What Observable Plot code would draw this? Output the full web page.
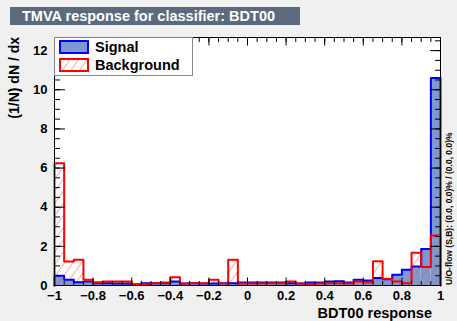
<!DOCTYPE html>
<html><head><meta charset="utf-8">
<script src="https://cdn.jsdelivr.net/npm/d3@7"></script>
<script src="https://cdn.jsdelivr.net/npm/@observablehq/plot@0.6"></script>
<style>
body{margin:0;background:#f0f0f0;}
#wrap{position:relative;width:457px;height:321px;background:#f0f0f0;font-family:"Liberation Sans",Arial,sans-serif;font-weight:bold;}
#title{position:absolute;left:10px;top:7px;width:290px;height:18px;background:#5b6a7c;color:#fff;font-size:14.5px;line-height:18px;padding-left:12px;box-sizing:border-box;white-space:nowrap;}
</style></head>
<body><div id="wrap"><div id="title">TMVA response for classifier: BDT00</div></div>
<script>
const binEdges = d3.range(40).map(i => -1 + i * 0.05);
const signal = [0.5, 0.3, 0.17, 0.2, 0.12, 0.12, 0.1, 0.1, 0.05, 0.12, 0.12, 0.12, 0.2, 0.1, 0.12, 0.1, 0.1, 0.12, 0.12, 0.15, 0.15, 0.15, 0.15, 0.15, 0.12, 0.1, 0.15, 0.15, 0.2, 0.22, 0.15, 0.3, 0.25, 0.38, 0.32, 0.55, 0.8, 0.97, 1.87, 10.6];
const background = [6.25, 1.22, 1.31, 0.29, 0.17, 0.2, 0.2, 0.2, 0.07, 0.07, 0.12, 0.15, 0.42, 0.1, 0.12, 0.12, 0.29, 0.1, 1.31, 0.1, 0.1, 0.1, 0.12, 0.12, 0.2, 0.1, 0.08, 0.1, 0.12, 0.12, 0.1, 0.2, 0.15, 1.24, 0.34, 0.2, 0.12, 1.67, 0.94, 2.55];
const xTickLabels = [-1, -0.8, -0.6, -0.4, -0.2, 0, 0.2, 0.4, 0.6, 0.8, 1];
const yTickLabels = [0, 2, 4, 6, 8, 10, 12];
const xMinor = d3.range(41).map(i => -1 + i * 0.05);
const yMinor = d3.range(26).map(i => i * 0.5);

const bw = 0.05;
const sigBins = binEdges.map((x, i) => ({x1: x, x2: x + bw, y: signal[i]}));
const bkgBins = binEdges.map((x, i) => ({x1: x, x2: x + bw, y: background[i]}));
function stepPts(vals) {
  const p = [{x: -1, y: 0}];
  binEdges.forEach((x, i) => p.push({x, y: vals[i]}));
  p.push({x: 1, y: vals[vals.length - 1]});
  p.push({x: 1, y: 0});
  return p;
}
const fmt = d => d === 0 ? "0" : d3.format("~g")(d);

const chart = Plot.plot({
  width: 457, height: 321,
  marginTop: 37, marginLeft: 54, marginRight: 17, marginBottom: 36,
  style: {background: "transparent", fontFamily: "Liberation Sans, Arial, sans-serif", fontWeight: "bold", fontSize: "13px", color: "#000"},
  x: {domain: [-1, 1]},
  y: {domain: [0, 12.67]},
  marks: [
    Plot.frame({fill: "white"}),
    Plot.rectY(sigBins, {x1: "x1", x2: "x2", y: "y", fill: "#7d99d1"}),
    Plot.rectY(bkgBins, {x1: "x1", x2: "x2", y: "y", fill: "url(#hatch)"}),
    Plot.line(stepPts(signal), {x: "x", y: "y", curve: "step-after", stroke: "#0000ff", strokeWidth: 2}),
    Plot.line(stepPts(background), {x: "x", y: "y", curve: "step-after", stroke: "#ff0000", strokeWidth: 2}),
    Plot.axisX({ticks: xTickLabels, tickSize: 0, tickPadding: 5, tickFormat: fmt, label: null, fontSize: 13}),
    Plot.axisX({anchor: "bottom", ticks: xTickLabels, tickSize: -7.5, tickFormat: () => "", label: null}),
    Plot.axisX({anchor: "bottom", ticks: xMinor, tickSize: -4, tickFormat: () => "", label: null}),
    Plot.axisX({anchor: "top", ticks: xTickLabels, tickSize: -7.5, tickFormat: () => "", label: null}),
    Plot.axisX({anchor: "top", ticks: xMinor, tickSize: -4, tickFormat: () => "", label: null}),
    Plot.axisY({ticks: yTickLabels, tickSize: 0, tickPadding: 7, tickFormat: fmt, label: null, fontSize: 13}),
    Plot.axisY({anchor: "left", ticks: yTickLabels, tickSize: -11, tickFormat: () => "", label: null}),
    Plot.axisY({anchor: "left", ticks: yMinor, tickSize: -6, tickFormat: () => "", label: null}),
    Plot.axisY({anchor: "right", ticks: yTickLabels, tickSize: -11, tickFormat: () => "", label: null}),
    Plot.axisY({anchor: "right", ticks: yMinor, tickSize: -6, tickFormat: () => "", label: null}),
    Plot.frame({stroke: "#000", strokeWidth: 1})
  ]
});
document.getElementById("wrap").insertBefore(chart, document.getElementById("title"));
const svg = d3.select(chart);
svg.style("position", "absolute").style("left", "0px").style("top", "0px");
const defs = svg.insert("defs", ":first-child");
const pat = defs.append("pattern").attr("id", "hatch").attr("patternUnits", "userSpaceOnUse")
  .attr("width", 7).attr("height", 7).attr("patternTransform", "rotate(35)");
pat.append("line").attr("x1", 0).attr("y1", 0).attr("x2", 0).attr("y2", 7)
  .attr("stroke", "#ff5050").attr("stroke-width", 1);

// legend
const lg = svg.append("g").attr("text-anchor", "start");
lg.append("rect").attr("x", 54.5).attr("y", 37.5).attr("width", 138).attr("height", 38)
  .attr("fill", "white").attr("stroke", "#888");
lg.append("rect").attr("x", 60).attr("y", 41).attr("width", 28).attr("height", 12)
  .attr("fill", "#7d99d1").attr("stroke", "#0000ff").attr("stroke-width", 2);
lg.append("rect").attr("x", 60).attr("y", 59).attr("width", 28).attr("height", 12)
  .attr("fill", "url(#hatch)").attr("stroke", "#ff0000").attr("stroke-width", 2);
lg.append("text").attr("x", 95).attr("y", 51.5).attr("font-size", 14.5).text("Signal");
lg.append("text").attr("x", 95).attr("y", 69.5).attr("font-size", 14.5).text("Background");

// axis titles
svg.append("text").attr("transform", "translate(19,37) rotate(-90)").attr("text-anchor", "end")
  .attr("font-size", 14).text("(1/N) dN / dx");
svg.append("text").attr("x", 432).attr("y", 318).attr("text-anchor", "end")
  .attr("font-size", 14.5).text("BDT00 response");
svg.append("text").attr("transform", "translate(452,285) rotate(-90)").attr("text-anchor", "start")
  .attr("font-size", 8.5).text("U/O-flow (S,B): (0.0, 0.0)% / (0.0, 0.0)%");
</script></body></html>
